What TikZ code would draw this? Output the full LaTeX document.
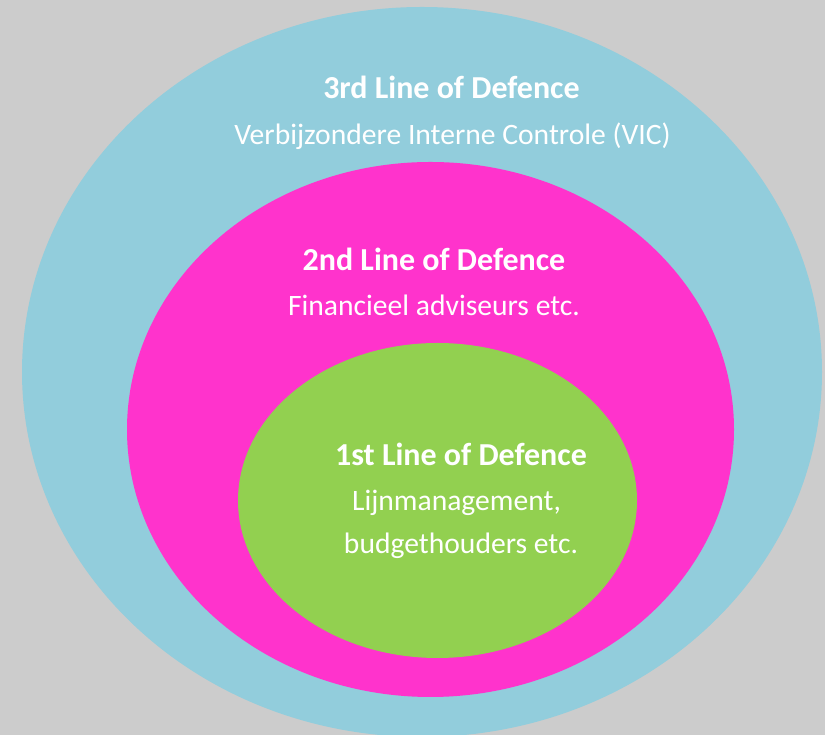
\documentclass[tikz,border=0pt]{standalone}
\usepackage{fontspec}
\setmainfont{Carlito}
\definecolor{bggray}{HTML}{CCCCCC}
\definecolor{lineblue}{HTML}{92CDDC}
\definecolor{linepink}{HTML}{FF33CC}
\definecolor{linegreen}{HTML}{92D050}
\begin{document}
\begin{tikzpicture}[x=1pt,y=1pt,
  title/.style={text=white,font=\fontsize{32}{38}\selectfont\bfseries,inner sep=0pt,anchor=base},
  sub/.style={text=white,font=\fontsize{29.6}{35}\selectfont,inner sep=0pt,anchor=base}]
\useasboundingbox (0,0) rectangle (825,735);
\fill[bggray] (0,0) rectangle (825,735);
\begin{scope}
\clip (0,0) rectangle (825,735);
\fill[lineblue] (422,363) ellipse [x radius=400, y radius=365];
\end{scope}
\fill[linepink] (430.5,305.5) ellipse [x radius=303.5, y radius=267.5];
\fill[linegreen] (437.5,234.5) ellipse [x radius=199.5, y radius=157.5];
\node[title] (t3) at (451.5,636) {3rd Line of Defence};
\node[sub] (s3) at (452.5,590) {Verbijzondere Interne Controle (VIC)};
\node[title] (t2) at (434,464) {2nd Line of Defence};
\node[sub] (s2) at (434,419) {Financieel adviseurs etc.};
\node[title] (t1) at (461,269) {1st Line of Defence};
\node[sub] (s1a) at (456.5,224) {Lijnmanagement,};
\node[sub] (s1b) at (461,181) {budgethouders etc.};
\end{tikzpicture}
\end{document}
